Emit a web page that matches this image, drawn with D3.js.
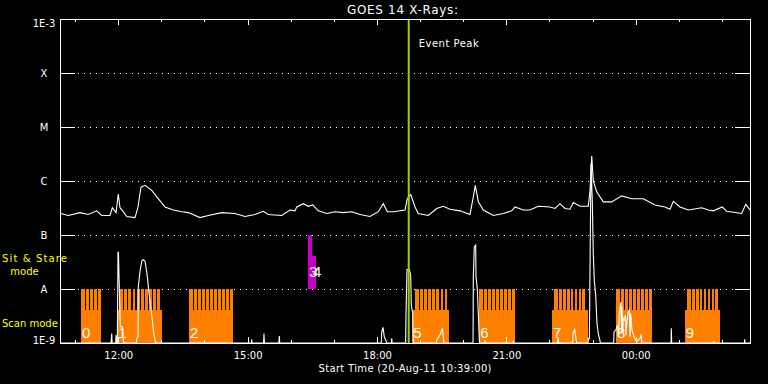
<!DOCTYPE html>
<html><head><meta charset="utf-8">
<script src="https://cdn.jsdelivr.net/npm/d3@7"></script>
<style>
body{margin:0;background:#000;}
svg{display:block;background:#000;}
text{font-family:"DejaVu Sans",sans-serif;fill:#fff;}
</style>
</head><body>
<svg id="chart" width="768" height="384"></svg>
<script>
// ---------------- data ----------------
const titleText = "GOES 14 X-Rays:";
const xAxisLabel = "Start Time (20-Aug-11 10:39:00)";
const startHour = 10.65;   // 10:39 on 20-Aug-11
const endHour = 26.65;     // 02:39 on 21-Aug-11
const yTickValues = [1e-3, 1e-4, 1e-5, 1e-6, 1e-7, 1e-8, 1e-9];
const yTickLabels = ["1E-3", "X", "M", "C", "B", "A", "1E-9"];
const eventPeakHour = 18.736;
const eventLabel = "Event Peak";
const modeLabels = ["Sit & Stare", "mode", "Scan mode"];

// GOES long channel, [hour of day, flux W/m^2]
const longFlux = [
 [10.65,2.6e-7],[10.673,2.5e-7],[10.842,2.3e-7],[11.114,2.6e-7],[11.306,2.4e-7],[11.501,2.8e-7],
 [11.617,2.3e-7],[11.809,2.3e-7],[11.863,3.2e-7],[11.949,2.6e-7],[12.002,5.7e-7],[12.041,3.2e-7],
 [12.118,2.7e-7],[12.197,2.2e-7],[12.389,2.1e-7],[12.452,3.1e-7],[12.528,7.7e-7],[12.621,8.3e-7],
 [12.776,6.7e-7],[12.929,4.7e-7],[13.085,3.3e-7],[13.277,2.9e-7],[13.472,2.7e-7],[13.625,2.6e-7],
 [13.896,2.1e-7],[14.089,2.3e-7],[14.4,2.6e-7],[14.708,2.5e-7],[14.94,2.2e-7],[15.172,2.4e-7],
 [15.364,2.75e-7],[15.48,2.4e-7],[15.791,2.3e-7],[15.983,2.9e-7],[16.099,2.8e-7],[16.139,3.3e-7],
 [16.292,3.8e-7],[16.408,3.4e-7],[16.51,3.6e-7],[16.64,2.8e-7],[16.834,2.5e-7],[17.027,2.7e-7],
 [17.219,2.6e-7],[17.414,2.7e-7],[17.607,2.4e-7],[17.838,2.2e-7],[18.031,2.7e-7],[18.147,3.8e-7],
 [18.24,2.7e-7],[18.379,2.7e-7],[18.65,2.9e-7],[18.703,4.7e-7],[18.782,5.6e-7],[18.882,3.3e-7],
 [18.959,2.5e-7],[19.19,2.3e-7],[19.385,3.1e-7],[19.538,3.4e-7],[19.693,3.0e-7],[19.925,2.8e-7],
 [20.157,2.4e-7],[20.234,5.1e-7],[20.28,8.3e-7],[20.35,4.1e-7],[20.466,2.9e-7],[20.698,2.3e-7],
 [20.929,2.5e-7],[21.124,2.8e-7],[21.201,3.3e-7],[21.393,2.9e-7],[21.549,2.9e-7],[21.741,3.4e-7],
 [22.012,3.3e-7],[22.128,3.1e-7],[22.244,3.8e-7],[22.36,3.1e-7],[22.476,3.0e-7],[22.553,4.0e-7],
 [22.708,3.4e-7],[22.901,3.4e-7],[22.94,6.7e-7],[22.98,2.9e-6],[23.016,1.0e-6],[23.095,6.3e-7],
 [23.248,4.1e-7],[23.443,4.1e-7],[23.675,5.3e-7],[23.907,4.7e-7],[24.176,4.7e-7],[24.447,3.6e-7],
 [24.679,3.3e-7],[24.795,3.0e-7],[24.872,4.2e-7],[25.027,3.3e-7],[25.219,2.9e-7],[25.53,3.2e-7],
 [25.683,2.9e-7],[25.799,2.8e-7],[26.008,3.3e-7],[26.11,2.75e-7],[26.458,2.5e-7],[26.551,3.7e-7],
 [26.65,2.9e-7]
];

// GOES short channel, [hour of day, flux W/m^2]; 5e-10 = below plot floor
const shortFlux = [
 [10.65,5e-10],[11.835,5e-10],[11.849,1.5e-9],[11.86,5e-10],[11.94,5e-10],[11.949,1.4e-9],[11.96,5e-10],
 [11.979,5e-10],[11.985,3.9e-9],[11.995,4.8e-8],[12.005,4.8e-8],[12.025,1.1e-8],[12.048,2.0e-9],
 [12.088,2.0e-9],[12.118,1.1e-9],[12.13,5e-10],
 [12.42,5e-10],[12.429,1.2e-9],[12.46,1.3e-9],[12.466,1.1e-8],[12.505,2.1e-8],[12.545,3.3e-8],
 [12.582,3.5e-8],[12.621,3.3e-8],[12.66,2.1e-8],[12.684,1.46e-8],[12.714,8.3e-9],[12.76,4.1e-9],
 [12.79,2.7e-9],[12.823,1.5e-9],[12.853,1.14e-9],[12.87,5e-10],
 [15.09,5e-10],[15.095,1.17e-9],[15.1,5e-10],[15.37,5e-10],[15.38,1.5e-9],[15.39,5e-10],
 [15.725,5e-10],[15.735,1.35e-9],[15.745,5e-10],
 [18.1,5e-10],[18.11,1.6e-9],[18.14,1.95e-9],[18.17,1.3e-9],[18.21,1.1e-9],[18.22,5e-10],
 [18.335,5e-10],[18.342,1.22e-9],[18.35,5e-10],
 [18.665,5e-10],[18.673,3.5e-9],[18.697,2.3e-8],[18.75,2.3e-8],[18.782,1.8e-8],[18.796,5.0e-9],
 [18.828,3.6e-9],[18.842,1.1e-9],[18.85,5e-10],
 [19.38,5e-10],[19.385,1.14e-9],[19.462,1.41e-9],[19.515,1.87e-9],[19.538,1.31e-9],[19.55,5e-10],
 [20.228,5e-10],[20.234,1.68e-8],[20.257,6.0e-8],[20.289,6.5e-8],[20.296,1.68e-8],[20.326,1.02e-8],
 [20.35,3.6e-9],[20.373,1.14e-9],[20.38,5e-10],
 [20.5,5e-10],[20.505,1.14e-9],[20.51,5e-10],[21.155,5e-10],[21.161,1.05e-9],[21.17,5e-10],
 [22.19,5e-10],[22.198,1.27e-9],[22.21,5e-10],
 [22.54,5e-10],[22.546,1.51e-9],[22.585,1.79e-9],[22.622,1.1e-9],[22.63,5e-10],
 [22.895,5e-10],[22.9,1.22e-9],[22.925,1.2e-9],[22.963,2.1e-6],[22.993,4.4e-7],[23.016,4.6e-8],
 [23.039,1.46e-8],[23.072,7.7e-9],[23.102,2.3e-9],[23.132,1.5e-9],[23.172,1.1e-9],[23.18,5e-10],
 [23.49,5e-10],[23.496,1.62e-9],[23.543,1.74e-9],[23.573,2.15e-9],[23.6,1.3e-9],[23.619,3.54e-9],
 [23.659,5.8e-9],[23.67,1.5e-9],[23.682,4.7e-9],[23.7,1.6e-9],[23.712,2.86e-9],[23.736,2.66e-9],
 [23.759,3.29e-9],[23.775,1.4e-9],[23.791,2.31e-9],[23.828,3.79e-9],[23.851,4.07e-9],[23.87,1.3e-9],
 [23.883,3.54e-9],[23.914,1.74e-9],[23.96,1.31e-9],[24.023,1.05e-9],[24.099,1.22e-9],[24.129,1.45e-9],
 [24.14,5e-10],
 [24.82,5e-10],[24.825,1.87e-9],[24.835,5e-10],[25.8,5e-10],[25.808,1.07e-9],[25.815,5e-10],
 [26.52,5e-10],[26.527,1.17e-9],[26.535,5e-10],[26.65,5e-10]
];

// instrument study blocks: label, mode, start, end, raster-start, raster-end, raster count
const studyLabels   = ["0","1","2","3","4","5","6","7","8","9"];
const studyModes    = ["scan","scan","scan","stare","stare","scan","scan","scan","scan","scan"];
const studyStart    = [11.137,11.979,13.641,16.408,16.494,18.819,20.37,22.058,23.543,25.135];
const studyEnd      = [11.594,13.008,14.655,16.494,16.579,19.67,21.2,22.893,24.378,25.954];
const rasterStart   = [11.137,12.018,13.641,16.408,null,18.882,20.37,22.105,23.543,25.188];
const rasterEnd     = [11.594,12.969,14.655,16.494,null,19.631,21.2,22.824,24.378,25.907];
const rasterCount   = [5,10,11,1,0,8,9,8,9,8];
const scanLevels    = [1e-9, 4e-9, 1e-8];
const stareLevels   = [1e-8, 4e-8, 1e-7];

// ---------------- drawing ----------------
const L = 60, R = 750, T = 19, B = 343;
const day0 = new Date(2011, 7, 20);
const toDate = h => new Date(day0.getTime() + h * 3600e3);

const svg = d3.select("#chart");
const x = d3.scaleTime().domain([toDate(startHour), toDate(endHour)]).range([L, R]);
const y = d3.scaleLog().domain([1e-9, 1e-3]).range([B, T]).clamp(true);

svg.append("defs").append("clipPath").attr("id", "plot")
  .append("rect").attr("x", L).attr("y", T).attr("width", R - L).attr("height", B - T);

// grid (dotted) at inner decades
svg.append("g").selectAll("line").data(yTickValues.slice(1, -1)).join("line")
  .attr("x1", 78).attr("x2", 735)
  .attr("y1", d => Math.round(y(d)) + 0.5).attr("y2", d => Math.round(y(d)) + 0.5)
  .attr("stroke", "#fff").attr("stroke-width", 1).attr("stroke-dasharray", "1 5")
  .attr("shape-rendering", "crispEdges");

// study blocks
const COLORS = {scan: "#ff8000", stare: "#c800c8"};
const gBlocks = svg.append("g").attr("clip-path", "url(#plot)").attr("shape-rendering", "crispEdges");
studyLabels.forEach((lab, i) => {
  const lv = studyModes[i] === "scan" ? scanLevels : stareLevels;
  const col = COLORS[studyModes[i]];
  const x0 = x(toDate(studyStart[i])), x1 = x(toDate(studyEnd[i]));
  gBlocks.append("rect").attr("x", x0).attr("width", x1 - x0)
    .attr("y", y(lv[1])).attr("height", y(lv[0]) - y(lv[1])).attr("fill", col);
  if (rasterCount[i] > 0) {
    const r0 = x(toDate(rasterStart[i])), r1 = x(toDate(rasterEnd[i]));
    gBlocks.append("rect").attr("x", r0).attr("width", r1 - r0)
      .attr("y", y(lv[2])).attr("height", y(lv[1]) - y(lv[2])).attr("fill", col);
    const p = (r1 - r0) / rasterCount[i];
    for (let k = 1; k < rasterCount[i]; k++) {
      gBlocks.append("rect").attr("x", r0 + k * p).attr("width", 1.3)
        .attr("y", y(lv[2])).attr("height", y(lv[1]) - y(lv[2])).attr("fill", "#000");
    }
  }
});

// curves
const line = d3.line().x(d => x(toDate(d[0]))).y(d => y(d[1]));
const gCurves = svg.append("g").attr("clip-path", "url(#plot)");
gCurves.append("path").datum(shortFlux).attr("d", line)
  .attr("fill", "none").attr("stroke", "#fff").attr("stroke-width", 1.1);
gCurves.append("path").datum(longFlux).attr("d", line)
  .attr("fill", "none").attr("stroke", "#fff").attr("stroke-width", 1.1);

// block labels
svg.append("g").selectAll("text").data(studyLabels).join("text")
  .attr("x", (d, i) => x(toDate(studyStart[i])) + 1)
  .attr("y", (d, i) => studyModes[i] === "scan" ? 338 : 277)
  .style("font-family", "'Liberation Sans', sans-serif")
  .style("font-size", "15px")
  .text(d => d);

// event peak line
const xe = x(toDate(eventPeakHour));
svg.append("line").attr("x1", xe).attr("x2", xe).attr("y1", T).attr("y2", B)
  .attr("stroke", "#a0d200").attr("stroke-width", 2);
svg.append("text").attr("x", xe + 10).attr("y", 47).style("font-size", "10px")
  .attr("textLength", 60).attr("lengthAdjust", "spacing").text(eventLabel);

// axes
function styleAxis(g) {
  g.select(".domain").remove();
  g.selectAll("line").attr("stroke", "#fff").attr("shape-rendering", "crispEdges");
  g.selectAll("text").attr("fill", "#fff").style("font-family", "'DejaVu Sans', sans-serif").style("font-size", "10px");
}
svg.append("g").attr("transform", `translate(0,${B})`)
  .call(d3.axisBottom(x).ticks(d3.timeHour.every(1)).tickSize(-3).tickFormat("")).call(styleAxis);
const xb = svg.append("g").attr("transform", `translate(0,${B})`)
  .call(d3.axisBottom(x).ticks(d3.timeHour.every(3)).tickSize(-6).tickPadding(9)
    .tickFormat(d3.timeFormat("%H:%M"))).call(styleAxis);
svg.append("g").attr("transform", `translate(0,${T})`)
  .call(d3.axisTop(x).ticks(d3.timeHour.every(1)).tickSize(-3).tickFormat("")).call(styleAxis);
svg.append("g").attr("transform", `translate(0,${T})`)
  .call(d3.axisTop(x).ticks(d3.timeHour.every(3)).tickSize(-6).tickFormat("")).call(styleAxis);

const yl = svg.append("g").attr("transform", `translate(${L},0)`)
  .call(d3.axisLeft(y).tickValues(yTickValues).tickSize(-15)
    .tickFormat((d, i) => yTickLabels[i])).call(styleAxis);
yl.selectAll("text").attr("x", -16).attr("text-anchor", "middle")
  .attr("dy", (d, i) => i === 0 ? "0.75em" : i === yTickValues.length - 1 ? "0.05em" : "0.35em");
svg.append("g").attr("transform", `translate(${R},0)`)
  .call(d3.axisRight(y).tickValues(yTickValues).tickSize(-15).tickFormat("")).call(styleAxis);

// frame
svg.append("rect").attr("x", L + 0.5).attr("y", T + 0.5).attr("width", R - L).attr("height", B - T)
  .attr("fill", "none").attr("stroke", "#fff").attr("stroke-width", 1).attr("shape-rendering", "crispEdges");

// titles and labels
svg.append("text").attr("x", 402.5).attr("y", 14).attr("text-anchor", "middle")
  .style("font-size", "12px").attr("textLength", 111).attr("lengthAdjust", "spacing").text(titleText);
svg.append("text").attr("x", 405).attr("y", 372).attr("text-anchor", "middle")
  .style("font-size", "10px").attr("textLength", 173).attr("lengthAdjust", "spacing").text(xAxisLabel);
svg.append("text").attr("x", 2).attr("y", 262).style("font-size", "10px").style("fill", "#ffff00")
  .attr("textLength", 65).attr("lengthAdjust", "spacing").text(modeLabels[0]);
svg.append("text").attr("x", 24.5).attr("y", 275).attr("text-anchor", "middle")
  .style("font-size", "10px").style("fill", "#ffff00").text(modeLabels[1]);
svg.append("text").attr("x", 2).attr("y", 327).style("font-size", "10px").style("fill", "#ffff00")
  .text(modeLabels[2]);
</script>
</body></html>
